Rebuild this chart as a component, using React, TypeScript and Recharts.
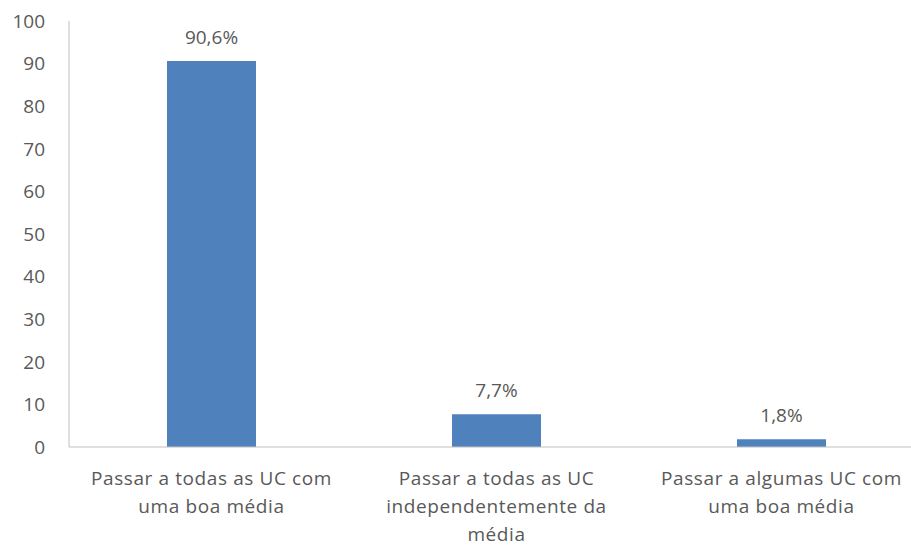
import React from "react";
import { BarChart, Bar, XAxis, YAxis, LabelList } from "recharts";

const categories = [
  "Passar a todas as UC com uma boa média",
  "Passar a todas as UC independentemente da média",
  "Passar a algumas UC com uma boa média",
];
const tickLines = [
  ["Passar a todas as UC com", "uma boa média"],
  ["Passar a todas as UC", "independentemente da", "média"],
  ["Passar a algumas UC com", "uma boa média"],
];
const values = [90.6, 7.7, 1.8];
const yTicks = [0, 10, 20, 30, 40, 50, 60, 70, 80, 90, 100];

const data = categories.map((name, i) => ({ name, value: values[i] }));

const FONT = "'Open Sans', sans-serif";
const TEXT = "#595959";
const SIZE = 19;

const CategoryTick = (props: any) => {
  const { x, y, index } = props;
  const lines = tickLines[index] || [];
  return (
    <text
      x={x}
      y={y}
      textAnchor="middle"
      fill={TEXT}
      fontFamily={FONT}
      fontSize={SIZE}
      letterSpacing={0.6}
    >
      {lines.map((l, i) => (
        <tspan key={i} x={x} dy={i === 0 ? 30 : 28}>
          {l}
        </tspan>
      ))}
    </text>
  );
};

export default function App() {
  return (
    <div
      style={{
        position: "absolute",
        left: 0,
        top: 0,
        width: 911,
        height: 546,
        overflow: "hidden",
        background: "#fff",
      }}
    >
      <BarChart
        width={924}
        height={546}
        data={data}
        margin={{ top: 21, right: 0, bottom: 0, left: 0 }}
      >
        <YAxis
          width={69}
          domain={[0, 100]}
          ticks={yTicks}
          interval={0}
          tickLine={false}
          tickSize={0}
          tickMargin={24}
          axisLine={{ stroke: "#bfbfbf", strokeWidth: 1 }}
          tick={{ fill: TEXT, fontFamily: FONT, fontSize: SIZE }}
        />
        <XAxis
          dataKey="name"
          height={99}
          tickLine={false}
          interval={0}
          axisLine={{ stroke: "#bfbfbf", strokeWidth: 1 }}
          tick={<CategoryTick />}
        />
        <Bar dataKey="value" fill="#4f81bd" barSize={89} isAnimationActive={false}>
          <LabelList
            dataKey="value"
            position="top"
            offset={17}
            fill={TEXT}
            fontFamily={FONT}
            fontSize={SIZE}
            formatter={(v: any) => `${String(v).replace(".", ",")}%`}
          />
        </Bar>
      </BarChart>
    </div>
  );
}
